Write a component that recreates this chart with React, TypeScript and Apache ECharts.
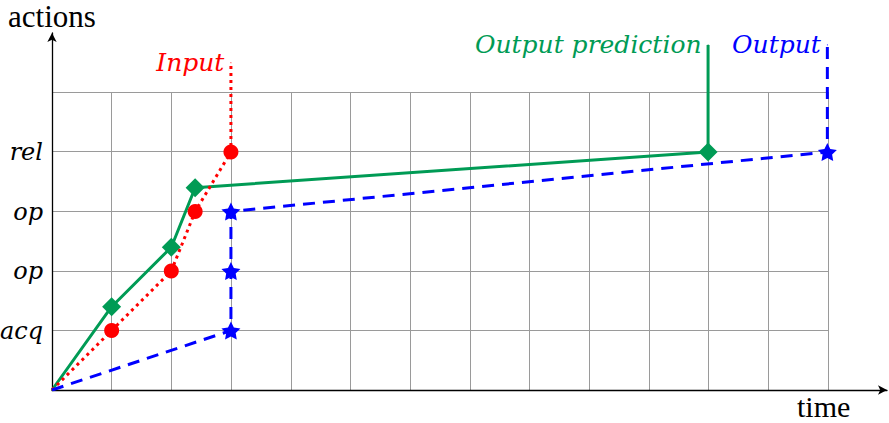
import React, { useEffect, useRef } from "react";
import * as echarts from "echarts";

// y tick labels (index = y value)
const yTickLabels = ["", "acq", "op", "op", "rel"];

// Output prediction (green, solid, diamonds)
const predX = [0, 1, 2, 2.4, 11, 11];
const predY = [0, 1.4, 2.4, 3.4, 4, 5.8];

// Input (red, dotted, circles)
const inputX = [0, 1, 2, 2.4, 3, 3];
const inputY = [0, 1, 2, 3, 4, 5.5];

// Output (blue, dashed, stars)
const outX = [0, 3, 3, 3, 13, 13];
const outY = [0, 1, 2, 3, 4, 5.8];

const seriesNames = ["Output prediction", "Input", "Output"];

const ITALIC_FONT = "DejaVu Serif";
const ROMAN_FONT = "Liberation Serif";
const STAR =
  "path://M50 2 L64.69 31.77 L97.55 36.55 L73.78 59.73 L79.39 92.45 L50 77 L20.61 92.45 L26.22 59.73 L2.45 36.55 L35.31 31.77 Z";

function buildData(xs: number[], ys: number[], symbol: string, size: any, name: string, color: string) {
  return xs.map((x, i) => {
    const last = i === xs.length - 1;
    const first = i === 0;
    if (first) return { value: [x, ys[i]], symbol: "none" };
    if (last)
      return {
        value: [x, ys[i]],
        symbol: "circle",
        symbolSize: 1,
        label: {
          show: true,
          position: "left",
          distance: 6,
          formatter: name,
          color,
          fontStyle: "italic",
          fontFamily: ITALIC_FONT,
          fontSize: 25,
        },
      };
    return { value: [x, ys[i]], symbol, symbolSize: size };
  });
}

export default function App() {
  const ref = useRef<HTMLDivElement>(null);
  useEffect(() => {
    if (!ref.current) return;
    const chart = echarts.init(ref.current, undefined, { renderer: "svg" });
    const axisLineStyle = { color: "#000", width: 1.3 };
    const green = "#009B55";
    const red = "#FF0000";
    const blue = "#0000FF";
    chart.setOption({
      animation: false,
      grid: [
        { left: 52, right: 2, top: 33, bottom: 33, outerBoundsMode: "none" },
        { left: 52, right: 61, top: 92, bottom: 33, outerBoundsMode: "none" },
      ],
      xAxis: [
        {
          type: "value",
          gridIndex: 0,
          min: 0,
          max: 14,
          interval: 1,
          z: 1,
          axisLine: { show: true, symbol: ["none", "arrow"], symbolSize: [7, 9], lineStyle: axisLineStyle },
          axisTick: { show: false },
          axisLabel: { show: false },
          splitLine: { show: false },
        },
        {
          type: "value",
          gridIndex: 1,
          min: 0,
          max: 13,
          interval: 1,
          z: 0,
          axisLine: { show: false },
          axisTick: { show: false },
          axisLabel: { show: false },
          splitLine: { show: true, lineStyle: { color: "#9a9a9a", width: 1 } },
        },
      ],
      yAxis: [
        {
          type: "value",
          gridIndex: 0,
          min: 0,
          max: 6,
          interval: 1,
          z: 1,
          axisLine: { show: true, symbol: ["none", "arrow"], symbolSize: [7, 9], lineStyle: axisLineStyle },
          axisTick: { show: false },
          axisLabel: {
            show: true,
            margin: 9,
            formatter: (v: number) => yTickLabels[v] ?? "",
            color: "#000",
            fontStyle: "italic",
            fontFamily: ITALIC_FONT,
            fontSize: 24,
          },
          splitLine: { show: false },
        },
        {
          type: "value",
          gridIndex: 1,
          min: 0,
          max: 5,
          interval: 1,
          z: 0,
          axisLine: { show: false },
          axisTick: { show: false },
          axisLabel: { show: false },
          splitLine: { show: true, lineStyle: { color: "#9a9a9a", width: 1 } },
        },
      ],
      graphic: [
        {
          type: "text",
          left: 8,
          top: 1,
          style: { text: "actions", fontFamily: ROMAN_FONT, fontSize: 31, fill: "#000" },
        },
        {
          type: "text",
          left: 797,
          top: 391,
          style: { text: "time", fontFamily: ROMAN_FONT, fontSize: 30, fill: "#000" },
        },
      ],
      series: [
        {
          name: seriesNames[0],
          type: "line",
          xAxisIndex: 0,
          yAxisIndex: 0,
          showSymbol: true,
          data: buildData(predX, predY, "diamond", 19, seriesNames[0], green),
          lineStyle: { color: green, width: 3 },
          itemStyle: { color: green },
          z: 2,
        },
        {
          name: seriesNames[1],
          type: "line",
          xAxisIndex: 0,
          yAxisIndex: 0,
          showSymbol: true,
          data: buildData(inputX, inputY, "circle", 15, seriesNames[1], red),
          lineStyle: { color: red, width: 3, type: [3, 4] },
          itemStyle: { color: red },
          z: 3,
        },
        {
          name: seriesNames[2],
          type: "line",
          xAxisIndex: 0,
          yAxisIndex: 0,
          showSymbol: true,
          data: buildData(outX, outY, STAR, [19, 18], seriesNames[2], blue),
          lineStyle: { color: blue, width: 3, type: [12, 8] },
          itemStyle: { color: blue },
          z: 4,
        },
      ],
    });
    return () => chart.dispose();
  }, []);
  return <div ref={ref} style={{ width: 889, height: 423, position: "absolute", left: 0, top: 0 }} />;
}
